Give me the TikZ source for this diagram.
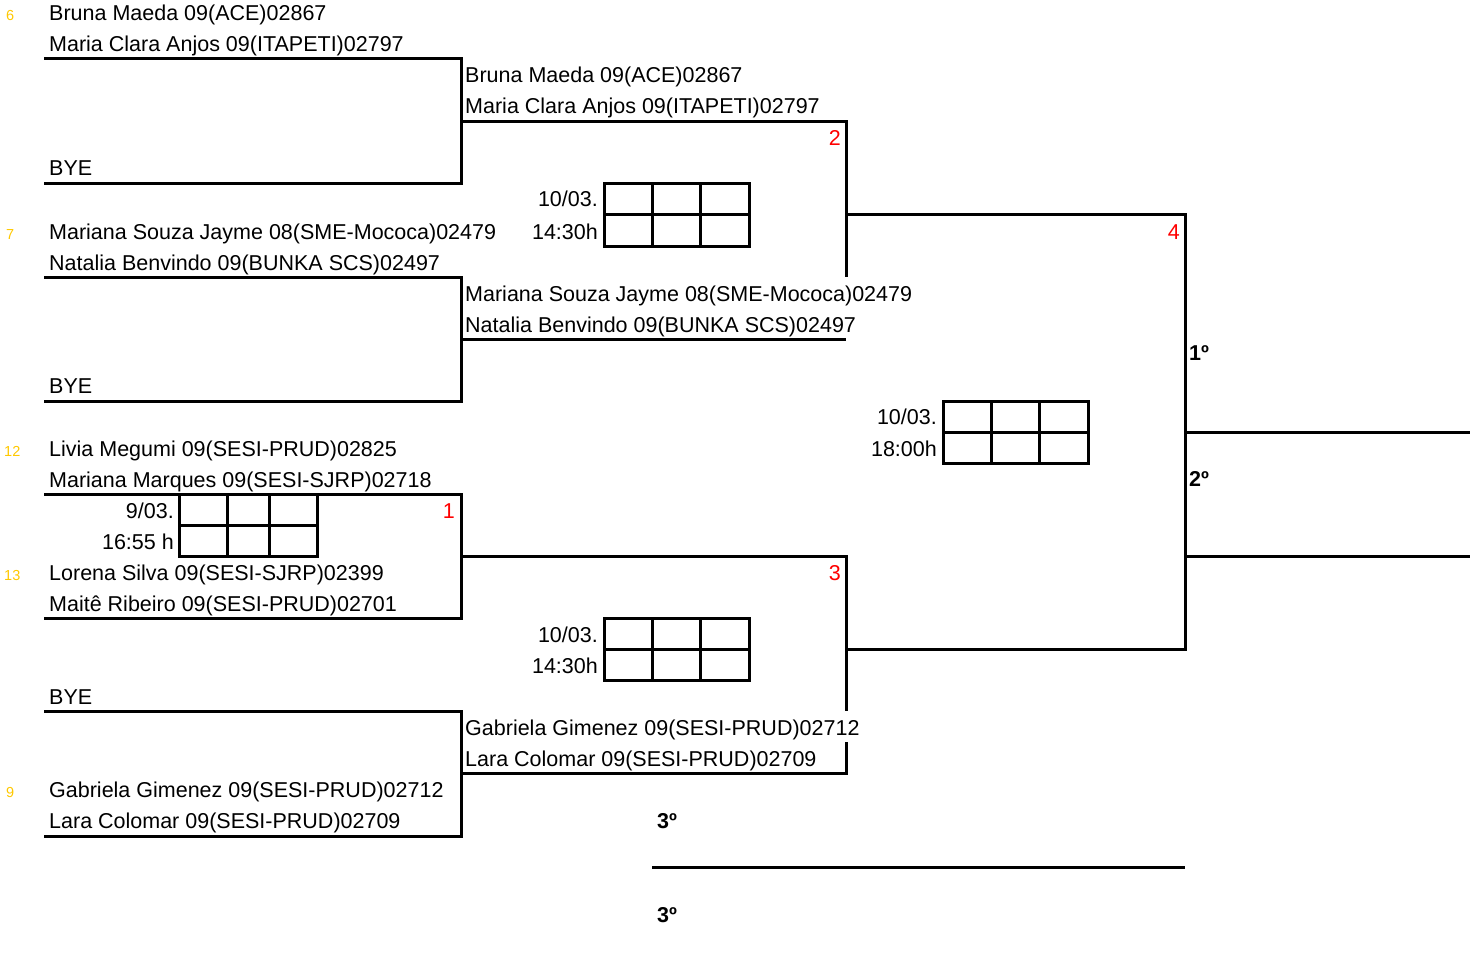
\documentclass[tikz,border=0pt]{standalone}
\usepackage{fontspec}
\setmainfont{Liberation Sans}
\definecolor{seedgold}{RGB}{255,200,0}
\tikzset{
  txt/.style={font=\fontsize{21.5}{25}\selectfont, inner sep=0pt, anchor=base west},
  rtxt/.style={txt, anchor=base east},
  rnum/.style={rtxt, text=red},
  seed/.style={font=\fontsize{14.5}{16}\selectfont, text=seedgold, inner sep=0pt, anchor=base west},
  place/.style={font=\fontsize{21.5}{25}\selectfont\bfseries, inner sep=0pt, anchor=base west},
  brk/.style={line width=3pt, line join=miter},
  scoregrid/.style={line width=3pt}
}
\begin{document}
\begin{tikzpicture}[x=1pt,y=-1pt]
\useasboundingbox (0,0) rectangle (1480,960);
% ---- round 1 brackets
\draw[brk] (44,59) -- (461,59) -- (461,184) -- (44,184);
\draw[brk] (44,277) -- (461,277) -- (461,401) -- (44,401);
\draw[brk] (44,494) -- (461,494) -- (461,618) -- (44,618);
\draw[brk] (44,711) -- (461,711) -- (461,836) -- (44,836);
% ---- round 2
\draw[brk] (461,122) -- (846,122) -- (846,277);
\draw[brk] (461,339) -- (846,339);
\draw[brk] (461,556) -- (846,556) -- (846,711);
\draw[brk] (846,742) -- (846,773) -- (461,773);
% ---- final
\draw[brk] (846,215) -- (1185,215) -- (1185,649) -- (846,649);
\draw[brk] (1185,432) -- (1470,432);
\draw[brk] (1185,556) -- (1470,556);
% ---- third place
\draw[brk] (652,867) -- (1185,867);
% ---- score grids
\draw[scoregrid] (604,184) rectangle (749,246) (604,215) -- (749,215) (652,184) -- (652,246) (700,184) -- (700,246);
\draw[scoregrid] (179,494) rectangle (317,556) (179,525) -- (317,525) (227,494) -- (227,556) (269,494) -- (269,556);
\draw[scoregrid] (604,618) rectangle (749,680) (604,649) -- (749,649) (652,618) -- (652,680) (700,618) -- (700,680);
\draw[scoregrid] (943,401) rectangle (1088,463) (943,432) -- (1088,432) (991,401) -- (991,463) (1039,401) -- (1039,463);
% ---- round 1 names
\node[txt] (p1a) at (49,21) {Bruna Maeda 09(ACE)02867};
\node[txt] (p1b) at (49,52) {Maria Clara Anjos 09(ITAPETI)02797};
\node[txt] (bye1) at (49,176) {BYE};
\node[txt] (p2a) at (49,239) {Mariana Souza Jayme 08(SME-Mococa)02479};
\node[txt] (p2b) at (49,270) {Natalia Benvindo 09(BUNKA SCS)02497};
\node[txt] (bye2) at (49,393) {BYE};
\node[txt] (p3a) at (49,456) {Livia Megumi 09(SESI-PRUD)02825};
\node[txt] (p3b) at (49,487) {Mariana Marques 09(SESI-SJRP)02718};
\node[txt] (p4a) at (49,580) {Lorena Silva 09(SESI-SJRP)02399};
\node[txt] (p4b) at (49,611) {Maitê Ribeiro 09(SESI-PRUD)02701};
\node[txt] (bye3) at (49,704) {BYE};
\node[txt] (p5a) at (49,797) {Gabriela Gimenez 09(SESI-PRUD)02712};
\node[txt] (p5b) at (49,828) {Lara Colomar 09(SESI-PRUD)02709};
% ---- round 2 names
\node[txt] (q1a) at (465,83) {Bruna Maeda 09(ACE)02867};
\node[txt] (q1b) at (465,114) {Maria Clara Anjos 09(ITAPETI)02797};
\node[txt] (q2a) at (465,301) {Mariana Souza Jayme 08(SME-Mococa)02479};
\node[txt] (q2b) at (465,332) {Natalia Benvindo 09(BUNKA SCS)02497};
\node[txt] (q3a) at (465,735) {Gabriela Gimenez 09(SESI-PRUD)02712};
\node[txt] (q3b) at (465,766) {Lara Colomar 09(SESI-PRUD)02709};
% ---- seeds
\node[seed] (s6) at (6,21) {6};
\node[seed] (s7) at (6,239) {7};
\node[seed] (s12) at (4,456) {12};
\node[seed] (s13) at (4,580) {13};
\node[seed] (s9) at (6,797) {9};
% ---- match numbers
\node[rnum] (m2) at (841,146) {2};
\node[rnum] (m4) at (1180,239) {4};
\node[rnum] (m1) at (455,518) {1};
\node[rnum] (m3) at (841,580) {3};
% ---- dates
\node[rtxt] (dA1) at (598,207) {10/03.};
\node[rtxt] (dA2) at (598,239) {14:30h};
\node[rtxt] (dB1) at (174,518) {9/03.};
\node[rtxt] (dB2) at (174,549) {16:55 h};
\node[rtxt] (dC1) at (598,642) {10/03.};
\node[rtxt] (dC2) at (598,673) {14:30h};
\node[rtxt] (dD1) at (937,424) {10/03.};
\node[rtxt] (dD2) at (937,456) {18:00h};
% ---- places
\node[place] (pl1) at (1189,360) {1º};
\node[place] (pl2) at (1189,486) {2º};
\node[place] (pl3a) at (657,828) {3º};
\node[place] (pl3b) at (657,922) {3º};
\end{tikzpicture}
\end{document}
